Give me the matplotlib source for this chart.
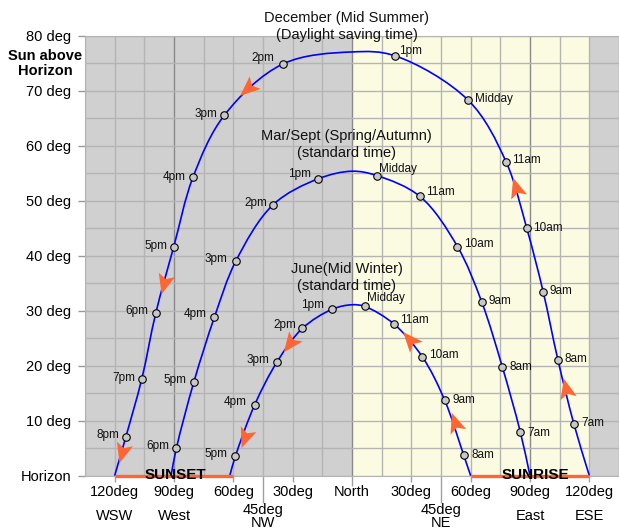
import numpy as np
import matplotlib
matplotlib.use("Agg")
import matplotlib.pyplot as plt
from matplotlib.path import Path
from matplotlib.patches import PathPatch
from matplotlib.markers import MarkerStyle
from matplotlib.transforms import Affine2D

plt.rcParams['font.family'] = ['Liberation Sans', 'DejaVu Sans']

# azimuth: east positive, west negative (deg); altitude above horizon (deg)
dec_times = ['7am', '8am', '9am', '10am', '11am', 'Midday', '1pm', '2pm', '3pm', '4pm', '5pm', '6pm', '7pm', '8pm']
dec_az = [112.2, 104.1, 96.7, 88.3, 77.9, 58.8, 21.7, -35.0, -64.5, -80.4, -90.1, -99.2, -106.3, -114.4]
dec_alt = [9.4, 21.1, 33.4, 45.1, 57.1, 68.3, 76.4, 74.9, 65.6, 54.3, 41.7, 29.6, 17.6, 7.0]
dec_rise, dec_set, dec_peak = 120, -120, 77.1

eq_times = ['7am', '8am', '9am', '10am', '11am', 'Midday', '1pm', '2pm', '3pm', '4pm', '5pm', '6pm']
eq_az = [85.1, 76.0, 65.6, 53.3, 34.4, 12.6, -17.2, -39.9, -58.8, -69.6, -80.0, -88.8]
eq_alt = [7.95, 19.8, 31.6, 41.7, 50.8, 54.6, 54.0, 49.3, 39.0, 28.8, 17.0, 5.0]
eq_rise, eq_set, eq_peak = 90, -91.5, 55.4

jun_times = ['8am', '9am', '10am', '11am', 'Midday', '1pm', '2pm', '3pm', '4pm', '5pm']
jun_az = [56.5, 46.9, 35.6, 21.2, 6.4, -9.9, -25.1, -37.9, -49.2, -59.0]
jun_alt = [3.7, 13.7, 21.6, 27.6, 30.8, 30.3, 26.8, 20.7, 12.9, 3.5]
jun_rise, jun_set, jun_peak = 60, -61.8, 31.1

# arrows showing direction of travel
dec_arrows = [(108.4, 15.7), (83.1, 52.3), (-52.7, 70.6), (-95.2, 35.0), (-116.4, 4.3)]
jun_arrows = [(51.9, 9.5), (29.2, 24.7), (-31.5, 24.1), (-54.2, 7.0)]

# label offsets in pixels (dx, dy)
dec_off = [(7, 1), (7, 1), (6, 1), (6, 0), (6, 2), (7, 1), (4, 5),
           (-8, 6), (-7, 1), (-7, 0), (-6, 1), (-7, 2), (-6, 1), (-6, 2)]
eq_off = [(7, -1), (7, 0), (7, 1), (7, 3), (6, 4), (2, 7),
          (-7, 5), (-6, 2), (-8, 2), (-8, 3), (-7, 2), (-7, 2)]
jun_off = [(8, 0), (8, 0), (7, 2), (6, 4), (2, 8),
           (-8, 4), (-6, 3), (-8, 2), (-8, 3), (-8, 2)]

ytick_vals = [0, 10, 20, 30, 40, 50, 60, 70, 80]
ytick_labels = ['Horizon', '10 deg', '20 deg', '30 deg', '40 deg', '50 deg', '60 deg', '70 deg', '80 deg']
xtick_vals = [-120, -90, -60, -30, 0, 30, 60, 90, 120]
xtick_labels = ['120deg', '90deg', '60deg', '30deg', 'North', '30deg', '60deg', '90deg', '120deg']
compass_vals = [-120, -90, 90, 120]
compass_labels = ['WSW', 'West', 'East', 'ESE']

BLUE = '#0000ff'
ORANGE = '#ff6633'
GRAY_BG = '#d0d0d0'
YELLOW_BG = '#fbfbe2'
GRID = '#b4b4b4'
DARK = '#8a8a8a'

fig = plt.figure(figsize=(6.19, 5.29), dpi=100)
ax = fig.add_axes([85 / 619, 53.3 / 529, 534 / 619, 439.7 / 529])
ax.set_xlim(-135, 135)
ax.set_ylim(0, 80)

ax.axvspan(-135, 0, color=GRAY_BG, lw=0, zorder=0)
ax.axvspan(0, 120, color=YELLOW_BG, lw=0, zorder=0)
ax.axvspan(120, 135, color=GRAY_BG, lw=0, zorder=0)

for v in np.arange(-135, 136, 15):
    ax.axvline(v, color=DARK if v in (-90, 0, 90) else GRID, lw=1.0, zorder=1)
for h in np.arange(0, 81, 5):
    ax.axhline(h, color=GRID, lw=1.0, zorder=1)

for s in ax.spines.values():
    s.set_color(GRID)


def smooth_path(xs, ys, sy=2.78, alpha=0.5):
    # centripetal Catmull-Rom through the points, drawn as cubic Bezier segments
    P = np.column_stack([xs, np.asarray(ys) * sy])
    ext = np.vstack([2 * P[0] - P[1], P, 2 * P[-1] - P[-2]])
    verts = [P[0]]
    codes = [Path.MOVETO]
    for i in range(len(P) - 1):
        p0, p1, p2, p3 = ext[i:i + 4]
        d0 = np.linalg.norm(p1 - p0) ** alpha
        d1 = np.linalg.norm(p2 - p1) ** alpha
        d2 = np.linalg.norm(p3 - p2) ** alpha
        c1 = (d0 ** 2 * p2 - d1 ** 2 * p0 + (2 * d0 ** 2 + 3 * d0 * d1 + d1 ** 2) * p1) / (3 * d0 * (d0 + d1))
        c2 = (d2 ** 2 * p1 - d1 ** 2 * p3 + (2 * d2 ** 2 + 3 * d2 * d1 + d1 ** 2) * p2) / (3 * d2 * (d2 + d1))
        verts += [c1, c2, p2]
        codes += [Path.CURVE4] * 3
    verts = np.array(verts)
    verts[:, 1] /= sy
    return Path(verts, codes)


def draw_curve(times, az, alt, rise, sett, peak, offs, arrows=()):
    lx = np.array([rise] + az + [sett, 0.0])
    ly = np.array([0.0] + alt + [0.0, peak])
    order = np.argsort(-lx)
    lx, ly = lx[order], ly[order]
    ax.add_patch(PathPatch(smooth_path(lx, ly), fc='none', ec=BLUE, lw=1.2, zorder=3))
    ax.plot(az, alt, 'o', ms=5.4, mfc='#c8c8c8', mec='black', mew=0.8, zorder=5)
    for t, x, y, (dx, dy) in zip(times, az, alt, offs):
        ax.annotate(t, (x, y), xytext=(dx * 0.72, dy * 0.72), textcoords='offset points',
                    ha='left' if dx > 0 else 'right', va='center', fontsize=8.5, color='#111111')
    head = Path([(1, 0), (-0.8, 0.75), (-0.4, 0), (-0.8, -0.75), (1, 0)],
                [Path.MOVETO, Path.LINETO, Path.LINETO, Path.LINETO, Path.CLOSEPOLY])
    for x, y in arrows:
        j = np.searchsorted(-lx, -x)
        a, b = ax.transData.transform([(lx[j - 1], ly[j - 1]), (lx[j], ly[j])])
        ang = np.degrees(np.arctan2(b[1] - a[1], b[0] - a[0]))
        m = MarkerStyle(head, transform=Affine2D().rotate_deg(ang))
        ax.plot([x], [y], marker=m, ms=16, color=ORANGE, mec='none', zorder=6)


draw_curve(dec_times, dec_az, dec_alt, dec_rise, dec_set, dec_peak, dec_off, dec_arrows)
draw_curve(eq_times, eq_az, eq_alt, eq_rise, eq_set, eq_peak, eq_off)
draw_curve(jun_times, jun_az, jun_alt, jun_rise, jun_set, jun_peak, jun_off, jun_arrows)

# sunset / sunrise bars on the horizon
ax.plot([-120, -60], [0, 0], color=ORANGE, lw=2.4, solid_capstyle='butt', zorder=4, clip_on=False)
ax.plot([60, 120], [0, 0], color=ORANGE, lw=2.4, solid_capstyle='butt', zorder=4, clip_on=False)
ax.text(-89.5, 0.1, 'SUNSET', ha='center', va='center', fontsize=11, fontweight='bold', zorder=7)
ax.text(92.6, 0.1, 'SUNRISE', ha='center', va='center', fontsize=11, fontweight='bold', zorder=7)

# curve titles
title_kw = dict(ha='center', va='center', fontsize=10.5, color='#111111', zorder=7, clip_on=False)
ax.text(-2.7, 83.3, 'December (Mid Summer)', **title_kw)
ax.text(-2.7, 80.2, '(Daylight saving time)', **title_kw)
ax.text(-2.7, 61.8, 'Mar/Sept (Spring/Autumn)', **title_kw)
ax.text(-2.7, 58.7, '(standard time)', **title_kw)
ax.text(-2.7, 37.6, 'June(Mid Winter)', **title_kw)
ax.text(-2.7, 34.5, '(standard time)', **title_kw)

# axes ticks and labels
ax.set_yticks(ytick_vals, ytick_labels, fontsize=10.5)
ax.tick_params(axis='y', length=5, width=1, color='#999999', pad=5)
ax.set_xticks(xtick_vals, xtick_labels, fontsize=10.5)
ax.set_xticks([-45, 45], ['45deg', '45deg'], minor=True, fontsize=10.5)
ax.tick_params(axis='x', which='major', length=4.3, width=1, color='#a0a0a0', pad=2.5)
ax.tick_params(axis='x', which='minor', length=19.5, width=1, color='#a0a0a0', pad=0.5)
north = ax.xaxis.get_major_ticks()[4]
north.tick1line.set_markersize(7.5)
north.tick1line.set_color(DARK)

for v, t in zip(compass_vals, compass_labels):
    ax.text(v, -7.3, t, ha='center', va='center', fontsize=10.5, clip_on=False)
ax.text(-45, -8.6, 'NW', ha='center', va='center', fontsize=10.5, clip_on=False)
ax.text(45, -8.6, 'NE', ha='center', va='center', fontsize=10.5, clip_on=False)

fig.text(45 / 619, 1 - 63.5 / 529, 'Sun above\nHorizon', ha='center', va='center',
         fontsize=10.5, fontweight='bold', linespacing=1.05)

fig.savefig('out.png', dpi=100)
